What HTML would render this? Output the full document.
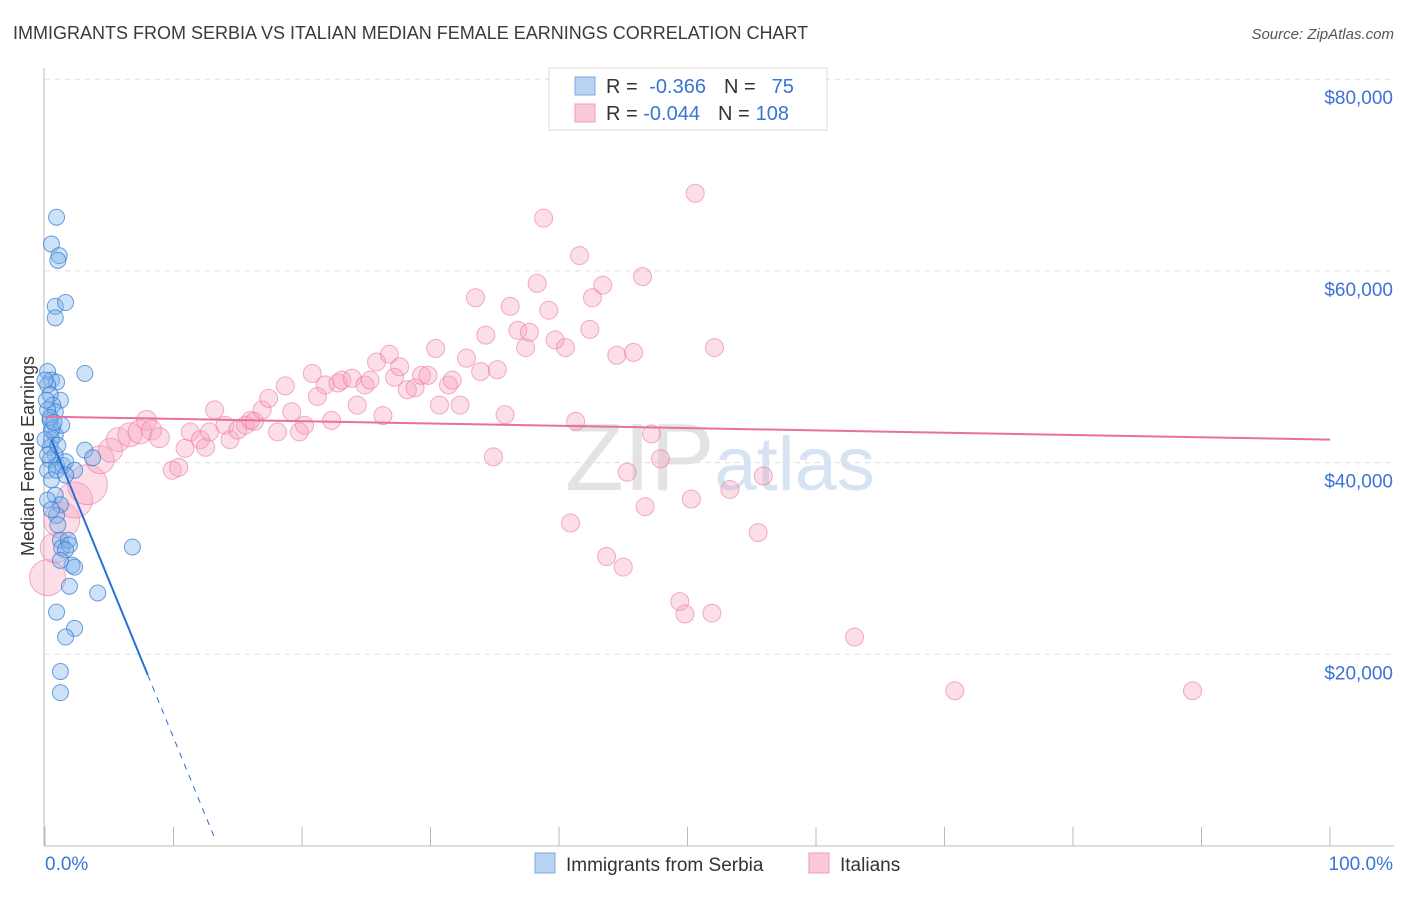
<!DOCTYPE html>
<html><head><meta charset="utf-8"><style>
body{margin:0;background:#fff;font-family:"Liberation Sans",sans-serif}
svg text{font-family:"Liberation Sans",sans-serif}
</style></head><body>
<svg id="chart" width="1406" height="892" xmlns="http://www.w3.org/2000/svg">
<text x="13" y="39" font-size="18" fill="#3a3a3a">IMMIGRANTS FROM SERBIA VS ITALIAN MEDIAN FEMALE EARNINGS CORRELATION CHART</text>
<text x="1394" y="39" font-size="15" fill="#555" text-anchor="end" font-style="italic">Source: ZipAtlas.com</text>
<text x="720" y="490" font-size="96" fill="#e3e3e3" text-anchor="middle" font-family="Liberation Serif">ZIP<tspan fill="#d5e3f3" font-family="Liberation Sans" font-size="76">atlas</tspan></text>
<g id="grid"></g>
<g id="axes"></g>
<text transform="translate(34,456) rotate(-90)" font-size="18" fill="#333" text-anchor="middle">Median Female Earnings</text>
<g id="pink"></g>
<g id="blue"></g>
<g id="trends"></g>
<g>
<rect x="549" y="68" width="278" height="62" fill="#fff" stroke="#ddd"/>
<rect x="575" y="77" width="20" height="18" fill="#b8d3f3" stroke="#7aa9e0"/>
<rect x="575" y="104" width="20" height="18" fill="#fbc9d8" stroke="#f09ab5"/>
<text x="606" y="93" font-size="20" fill="#333">R = <tspan fill="#3a74d4" dx="6">-0.366</tspan><tspan dx="18" fill="#333">N =</tspan><tspan dx="16" fill="#3a74d4">75</tspan></text>
<text x="606" y="120" font-size="20" fill="#333">R = <tspan fill="#3a74d4">-0.044</tspan><tspan dx="18" fill="#333">N =</tspan><tspan dx="6" fill="#3a74d4">108</tspan></text>
</g>
<g>
<rect x="535" y="853" width="20" height="20" fill="#b8d3f3" stroke="#7aa9e0"/>
<text x="566" y="871" font-size="19" fill="#333">Immigrants from Serbia</text>
<rect x="809" y="853" width="20" height="20" fill="#fbc9d8" stroke="#f09ab5"/>
<text x="840" y="871" font-size="19" fill="#333">Italians</text>
</g>
</svg>
<script>
const yTicks=[20000,40000,60000,80000];
const yTickLabels=["$20,000","$40,000","$60,000","$80,000"];
const xTicks=[0,10,20,30,40,50,60,70,80,90,100];
const blueX=[0.9,0.5,1.1,1.0,0.8,1.6,0.8,3.1,0.2,0.5,0.9,1.2,0.2,0.4,0.6,0.8,0.4,0.6,0.8,0.5,0.4,0.8,0.4,0.9,1.4,3.1,3.7,1.6,0.2,0.5,0.8,1.2,0.9,1.0,1.2,1.3,1.8,1.9,2.1,2.3,1.9,4.1,6.8,0.9,2.3,1.6,1.2,1.2,0,0.2,0,0.2,0.5,1.0,1.3,0.1,0.4,0.7,0.9,1.6,1.2,2.3,1.6,0.2,0.5];
const blueY=[65.6,62.8,61.6,61.1,56.3,56.7,55.1,49.3,49.5,48.6,48.4,46.5,48.1,47.1,46.0,45.3,44.4,43.6,42.9,42.4,41.6,40.8,40.3,39.7,39.7,41.3,40.5,40.1,39.2,38.2,36.6,35.6,34.5,33.5,31.9,31.1,31.9,31.4,29.3,29.1,27.1,26.4,31.2,24.4,22.7,21.8,18.2,16.0,48.6,45.5,42.4,40.8,43.4,41.8,43.9,46.5,44.7,44.2,39.2,30.9,29.8,39.2,38.7,36.1,35.1];
const pinkX=[0.2,0.8,1.3,2.3,3.3,4.3,5.1,5.7,6.6,7.4,7.9,8.3,8.9,9.9,10.4,10.9,11.3,12.1,12.5,12.8,13.2,14.0,14.4,15.0,15.6,16.0,16.3,16.9,17.4,18.1,18.7,19.2,19.8,20.2,20.8,21.2,21.8,22.3,22.8,23.1,23.9,24.3,24.9,25.3,25.8,26.3,26.8,27.2,27.6,28.2,28.8,29.3,29.8,30.4,30.7,31.4,31.7,32.3,32.8,33.5,33.9,34.3,34.9,35.2,35.8,36.2,36.8,37.4,37.7,38.3,38.8,39.2,39.7,40.5,40.9,41.3,41.6,42.4,42.6,43.4,43.7,44.5,45.0,45.3,45.8,46.5,46.7,47.2,47.9,49.4,49.8,50.3,50.6,51.9,52.1,53.3,55.5,55.9,63.0,70.8,89.3];
const pinkY=[28.0,31.1,34.0,36.1,37.7,40.3,41.3,42.4,42.9,43.2,44.4,43.4,42.6,39.2,39.5,41.5,43.2,42.4,41.6,43.2,45.5,43.9,42.4,43.4,43.9,44.4,44.3,45.5,46.7,43.2,48.0,45.3,43.2,43.9,49.3,46.9,48.1,44.4,48.3,48.6,48.8,46.0,48.1,48.6,50.5,44.9,51.3,48.9,50.0,47.6,47.8,49.1,49.1,51.9,46.0,48.1,48.6,46.0,50.9,57.2,49.5,53.3,40.6,49.7,45.0,56.3,53.8,52.0,53.6,58.7,65.5,55.9,52.8,52.0,33.7,44.3,61.6,53.9,57.2,58.5,30.2,51.2,29.1,39.0,51.5,59.4,35.4,43.0,40.4,25.5,24.2,36.2,68.1,24.3,52.0,37.2,32.7,38.6,21.8,16.2,16.2];
const pinkR=[18,15,18,18,20,14,12,12,12,12,10,10,10];
const blueTrend=[44.0,-3.27]; // intercept (k$), slope per %
const pinkTrend=[44.8,-0.024];
const NS="http://www.w3.org/2000/svg";
const X=v=>45+v*12.85;
const Y=v=>846-v/20000*191.7;
function mk(t,a,p){const e=document.createElementNS(NS,t);for(const k in a)e.setAttribute(k,a[k]);p.appendChild(e);return e;}
const grid=document.getElementById('grid'),axes=document.getElementById('axes');
yTicks.forEach((v,i)=>{
 const l=mk('line',{x1:45,x2:1394,y1:Y(v),y2:Y(v),stroke:'#ddd','stroke-dasharray':'5,5'},grid);
 
 
 const t=mk('text',{x:1393,y:Y(v)+25,'font-size':19,fill:'#3a74d4','text-anchor':'end'},axes);
 t.textContent=yTickLabels[i];
 
 
});
mk('line',{x1:44,x2:44,y1:68,y2:846,stroke:'#bbb'},axes);
mk('line',{x1:44,x2:1394,y1:846,y2:846,stroke:'#bbb'},axes);
xTicks.forEach(v=>{const l=mk('line',{x1:X(v),x2:X(v),y1:827,y2:846,stroke:'#bbb'},axes);
 
 });
let t0=mk('text',{x:45,y:870,'font-size':19,fill:'#3a74d4'},axes);t0.textContent='0.0%';


let t1=mk('text',{x:1393,y:870,'font-size':19,fill:'#3a74d4','text-anchor':'end'},axes);t1.textContent='100.0%';


const pg=document.getElementById('pink');
pinkX.forEach((x,i)=>{const c=mk('circle',{cx:X(x),cy:Y(pinkY[i]*1000),r:pinkR[i]||9,fill:'rgba(246,160,188,0.35)',stroke:'rgba(236,120,160,0.6)','stroke-width':1},pg);
 
 });
const bg=document.getElementById('blue');
blueX.forEach((x,i)=>{const c=mk('circle',{cx:X(x),cy:Y(blueY[i]*1000),r:8,fill:'rgba(130,180,235,0.4)',stroke:'rgba(50,120,210,0.7)','stroke-width':1},bg);
 
 });
const tg=document.getElementById('trends');
const bf=x=>(blueTrend[0]+blueTrend[1]*x)*1000, pf=x=>(pinkTrend[0]+pinkTrend[1]*x)*1000;
let a=mk('line',{x1:X(0.5),y1:Y(bf(0.5)),x2:X(8),y2:Y(bf(8)),stroke:'#2a6fd6','stroke-width':2},tg);


let b=mk('line',{x1:X(8),y1:Y(bf(8)),x2:X(13.2),y2:Y(bf(13.2)),stroke:'#2a6fd6','stroke-width':1,'stroke-dasharray':'6,6'},tg);


let c=mk('line',{x1:X(0),y1:Y(pf(0)),x2:X(100),y2:Y(pf(100)),stroke:'#e8709a','stroke-width':2},tg);


</script>
</body></html>
